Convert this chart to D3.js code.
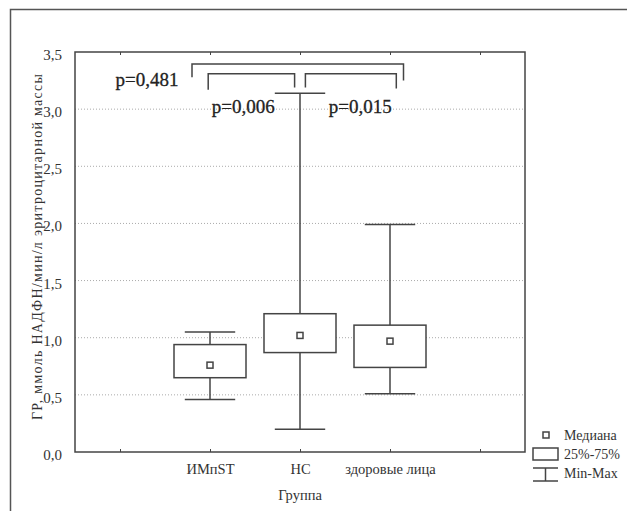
<!DOCTYPE html>
<html>
<head>
<meta charset="utf-8">
<script src="https://cdn.jsdelivr.net/npm/d3@7"></script>
<style>
  body { margin: 0; background: #fff; }
  svg text { font-family: "Liberation Serif", "Times New Roman", Tinos, "DejaVu Serif", serif !important; fill: #333; }
</style>
</head>
<body>
<div id="chart"></div>
<script>
// group values
var groups = ["ИМпST", "НС", "здоровые лица"];
var groupPos = [2, 3, 4];
var minV = [0.46, 0.20, 0.51];
var q1 = [0.65, 0.87, 0.74];
var med = [0.76, 1.02, 0.97];
var q3 = [0.94, 1.21, 1.11];
var maxV = [1.05, 3.14, 1.99];

var yTicks = [0, 0.5, 1, 1.5, 2, 2.5, 3, 3.5];
var xTicks = [1, 2, 3, 4, 5];

// significance brackets, in data units
var brackets = [
  { x0: 1.80, x1: 4.15, top: 3.395, left: 3.28, right: 3.25 },
  { x0: 1.98, x1: 2.94, top: 3.31, left: 3.17, right: 3.19 },
  { x0: 3.06, x1: 4.07, top: 3.31, left: 3.19, right: 3.18 }
];
var pLabels = [
  { text: "p=0,481", x: 1.30, y: 3.20 },
  { text: "p=0,006", x: 2.37, y: 2.97 },
  { text: "p=0,015", x: 3.67, y: 2.97 }
];

(function(){
  var width = 627, height = 511;
  var pLeft = 75, pRight = 525, pTop = 52, pBottom = 452;
  var ink = "#444";

  var svg = d3.select("#chart").append("svg")
    .attr("width", width)
    .attr("height", height);

  var x = d3.scaleLinear().domain([0.5, 5.5]).range([pLeft, pRight]);
  var y = d3.scaleLinear().domain([0, 3.5]).range([pBottom, pTop]);

  // outer frame (cropped at right / bottom)
  svg.append("path")
    .attr("d", "M10.5," + height + "V9.5H" + width)
    .attr("fill", "none").attr("stroke", "#555").attr("stroke-width", 1.5);

  // gridlines
  svg.append("g").selectAll("line")
    .data(yTicks.filter(function(d){ return d > 0 && d < 3.5; }))
    .enter().append("line")
    .attr("x1", pLeft).attr("x2", pRight)
    .attr("y1", function(d){ return y(d); })
    .attr("y2", function(d){ return y(d); })
    .attr("stroke", "#aaa").attr("stroke-dasharray", "1,2");

  // axes
  var yAxis = svg.append("g").attr("transform", "translate(" + pLeft + ",0)")
    .call(d3.axisLeft(y).tickValues(yTicks).tickSize(0).tickPadding(13)
      .tickFormat(function(d){ return d3.format(".1f")(d).replace(".", ","); }));
  yAxis.select(".domain").remove();
  yAxis.selectAll("text").style("font-size", "15px").attr("dy", "0.5em");

  var xBottom = svg.append("g").attr("transform", "translate(0," + pBottom + ")")
    .call(d3.axisBottom(x).tickValues(xTicks).tickSizeInner(-3).tickSizeOuter(0).tickPadding(12)
      .tickFormat(function(d){ var i = groupPos.indexOf(d); return i < 0 ? "" : groups[i]; }));
  xBottom.select(".domain").remove();
  xBottom.selectAll("line").attr("stroke", ink);
  xBottom.selectAll("text").style("font-size", "14.5px");

  var xTop = svg.append("g").attr("transform", "translate(0," + pTop + ")")
    .call(d3.axisTop(x).tickValues(xTicks).tickSizeInner(-3).tickSizeOuter(0).tickFormat(""));
  xTop.select(".domain").remove();
  xTop.selectAll("line").attr("stroke", ink);

  // plot frame
  svg.append("rect")
    .attr("x", pLeft).attr("y", pTop)
    .attr("width", pRight - pLeft).attr("height", pBottom - pTop)
    .attr("fill", "none").attr("stroke", ink).attr("stroke-width", 1.5);

  // axis titles
  svg.append("text")
    .attr("x", x(3)).attr("y", 500)
    .attr("text-anchor", "middle").style("font-size", "14.5px")
    .text("Группа");
  svg.append("text")
    .attr("transform", "translate(42,420) rotate(-90)")
    .attr("text-anchor", "start").style("font-size", "14px")
    .attr("textLength", 346).attr("lengthAdjust", "spacing")
    .text("ГР, ммоль НАДФН/мин/л эритроцитарной массы");

  // box plots
  var boxW = 0.8, capW = 0.56;
  var data = groups.map(function(g, i){
    return { name: g, pos: groupPos[i], min: minV[i], q1: q1[i], med: med[i], q3: q3[i], max: maxV[i] };
  });

  var box = svg.append("g").selectAll("g").data(data).enter().append("g")
    .attr("stroke", ink).attr("stroke-width", 1.5).attr("fill", "none");

  box.append("line")
    .attr("x1", function(d){ return x(d.pos); }).attr("x2", function(d){ return x(d.pos); })
    .attr("y1", function(d){ return y(d.max); }).attr("y2", function(d){ return y(d.q3); });
  box.append("line")
    .attr("x1", function(d){ return x(d.pos); }).attr("x2", function(d){ return x(d.pos); })
    .attr("y1", function(d){ return y(d.q1); }).attr("y2", function(d){ return y(d.min); });
  box.append("line")
    .attr("x1", function(d){ return x(d.pos - capW / 2); }).attr("x2", function(d){ return x(d.pos + capW / 2); })
    .attr("y1", function(d){ return y(d.max); }).attr("y2", function(d){ return y(d.max); });
  box.append("line")
    .attr("x1", function(d){ return x(d.pos - capW / 2); }).attr("x2", function(d){ return x(d.pos + capW / 2); })
    .attr("y1", function(d){ return y(d.min); }).attr("y2", function(d){ return y(d.min); });
  box.append("rect")
    .attr("x", function(d){ return x(d.pos - boxW / 2); })
    .attr("width", function(d){ return x(d.pos + boxW / 2) - x(d.pos - boxW / 2); })
    .attr("y", function(d){ return y(d.q3); })
    .attr("height", function(d){ return y(d.q1) - y(d.q3); })
    .attr("fill", "#fff");
  box.append("rect")
    .attr("x", function(d){ return x(d.pos) - 3; })
    .attr("y", function(d){ return y(d.med) - 3; })
    .attr("width", 6).attr("height", 6)
    .attr("fill", "#fff");

  // brackets
  svg.append("g").selectAll("path").data(brackets).enter().append("path")
    .attr("d", function(b){
      return "M" + x(b.x0) + "," + y(b.left) + "V" + y(b.top) + "H" + x(b.x1) + "V" + y(b.right);
    })
    .attr("fill", "none").attr("stroke", ink).attr("stroke-width", 1.5);

  svg.append("g").selectAll("text").data(pLabels).enter().append("text")
    .attr("x", function(d){ return x(d.x); })
    .attr("y", function(d){ return y(d.y); })
    .attr("text-anchor", "middle")
    .style("font-size", "19px")
    .style("fill", "#222")
    .attr("stroke", "#222").attr("stroke-width", 0.3)
    .text(function(d){ return d.text; });

  // legend
  var lg = svg.append("g").attr("stroke", ink).attr("stroke-width", 1.5).attr("fill", "none");
  lg.append("rect").attr("x", 543).attr("y", 432).attr("width", 6).attr("height", 6).attr("fill", "#fff");
  lg.append("rect").attr("x", 533).attr("y", 448).attr("width", 25).attr("height", 12).attr("fill", "#fff");
  lg.append("path").attr("d", "M533,468H558M545.5,468V481M533,481H558");

  var legendText = ["Медиана", "25%-75%", "Min-Max"];
  svg.append("g").selectAll("text").data(legendText).enter().append("text")
    .attr("x", 564)
    .attr("y", function(d, i){ return 440 + i * 19; })
    .style("font-size", "14px")
    .text(function(d){ return d; });
})();
</script>
</body>
</html>
